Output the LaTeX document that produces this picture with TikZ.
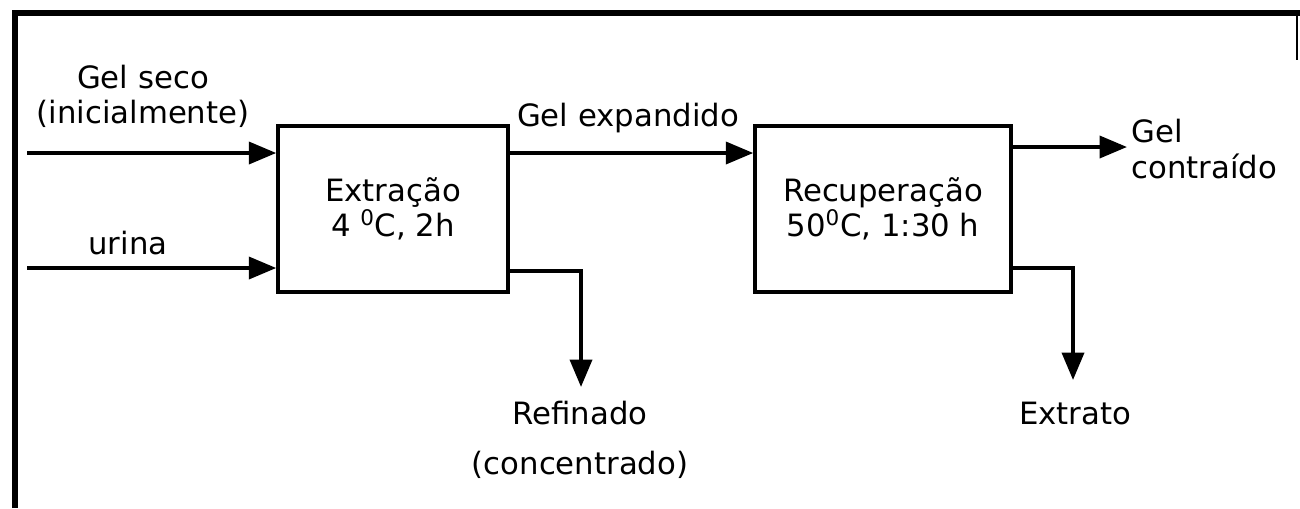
\documentclass[tikz,border=0pt]{standalone}
\usepackage{fontspec}
\setmainfont{DejaVu Sans}
\usetikzlibrary{arrows.meta}

\begin{document}
\begin{tikzpicture}[x=0.02cm, y=-0.02cm,
  every node/.style={font=\fontsize{17.5}{20}\selectfont, inner sep=0pt},
  unit/.style={draw, line width=2pt, minimum height=3.32cm, align=center},
  flow/.style={line width=2.2pt, -{Triangle[length=0.55cm, width=0.44cm]}}]
\useasboundingbox (0,0) rectangle (1300,508);

% Frame
\draw[line width=3pt] (15,508) -- (15,13) -- (1300,13);
\draw[line width=1.5pt] (1297,15) -- (1297,60);

% Process units
\node[unit, minimum width=4.6cm] (ext) at (393,209) {Extração\\4 \textsuperscript{0}C, 2h};
\node[unit, minimum width=5.12cm] (rec) at (883,209) {Recuperação\\50\textsuperscript{0}C, 1:30 h};

% Free ends of the streams
\coordinate (gel) at (27,153);
\coordinate (uri) at (27,268);
\coordinate (con) at (1127,147);
\coordinate (raf) at (581,387);
\coordinate (xtr) at (1073,380);

% Streams
\foreach \a in {gel, uri} {
  \draw[flow] (\a) -- (\a -| ext.west);
}
\draw[flow] (ext.east |- gel) -- (rec.west |- gel);
\draw[flow] (rec.east |- con) -- (con);
\draw[flow] (ext.east |- 0,271) -| (raf);
\draw[flow] (rec.east |- 0,268) -| (xtr);

% Stream labels
\node[align=center] (lgel) at (143,96) {Gel seco\\(inicialmente)};
\node (luri) at (128,243) {urina};
\node (lexp) at (628,118) {Gel expandido};
\node[anchor=west, align=left] (lcon) at (1131,149) {Gel\\contraído};
\node[align=center] (lraf) at (580,440) {Refinado\\[0.3cm](concentrado)};
\node (lxtr) at (1075,413) {Extrato};
\end{tikzpicture}
\end{document}
